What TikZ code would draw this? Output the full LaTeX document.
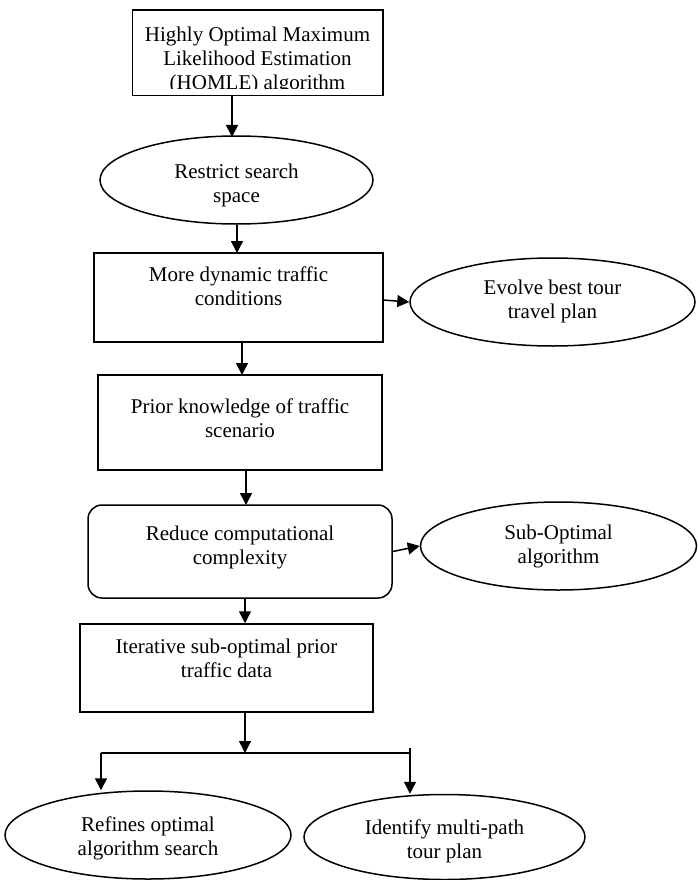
\documentclass[tikz,border=0pt]{standalone}
\usepackage{fontspec}
\setmainfont{Liberation Serif}
\usetikzlibrary{arrows.meta,shapes.geometric}

\begin{document}
\begin{tikzpicture}[x=1pt,y=-1pt,->,>={Triangle[length=12pt,width=12pt]},line width=1.5pt,
  font=\fontsize{21}{24}\selectfont,
  blk/.style={draw,rectangle,align=center,inner sep=0pt,text depth=0pt},
  oval/.style={draw,ellipse,align=center,inner sep=0pt,text depth=0pt}]
  \useasboundingbox (0,0) rectangle (697,880);
  % top box, last line cut off as in the source
  \begin{scope}
    \clip (0,0) rectangle (697,88.5);
    \node[blk,draw=none,minimum width=249,minimum height=84,text height=74pt]	(H)	at (257.5,53)	{Highly Optimal Maximum\\Likelihood Estimation\\(HOMLE) algorithm};
  \end{scope}
  \draw[-] (H.south west) rectangle (H.north east);
  \node[oval,minimum width=273,minimum height=88,text height=44pt]	(R)	at (236.5,180)	{Restrict search\\space};
  \node[blk,minimum width=289,minimum height=89,text height=15pt]	(M)	at (238.5,297.5)	{More dynamic traffic\\conditions};
  \node[oval,minimum width=285,minimum height=88,text height=32pt]	(E)	at (552.5,302)	{Evolve best tour\\travel plan};
  \node[blk,minimum width=284,minimum height=95,text height=29pt]	(P)	at (240,422.5)	{Prior knowledge of traffic\\scenario};
  \node[blk,rounded corners=14pt,minimum width=304,minimum height=93,text height=25pt]	(C)	at (240,551.5)	{Reduce computational\\complexity};
  \node[oval,minimum width=276,minimum height=88,text height=34pt]	(S)	at (558.5,546)	{Sub-Optimal\\algorithm};
  \node[blk,minimum width=293,minimum height=88,text height=18pt]	(I)	at (226.5,668)	{Iterative sub-optimal prior\\traffic data};
  \node[oval,minimum width=286,minimum height=88,text height=40pt]	(F)	at (148,835)	{Refines optimal\\algorithm search};
  \node[oval,minimum width=281,minimum height=85,text height=42pt]	(D)	at (444.5,837)	{Identify multi-path\\tour plan};
  \coordinate (J)	at (245,753);
  \coordinate (JL)	at (101,753);
  \coordinate (JR)	at (410,753);
  \draw (H.south -| 232,0) -- (232,137);
  \draw (R.south -| 237,0) -- (237,253);
  \draw (383,300) -- (E.west);
  \draw (M.south -| 242,0) -- (242,375);
  \draw (P.south -| 246,0) -- (246,505);
  \draw (C.east) -- (S.west);
  \draw (C.south -| J) -- (J |- I.north);
  \draw (I.south -| J) -- (J);
  \draw[-] (JL) -- (JR);
  \draw (JL) -- (JL |- F.north);
  \draw ([yshift=5]JR) -- (JR |- D.north);
\end{tikzpicture}
\end{document}
